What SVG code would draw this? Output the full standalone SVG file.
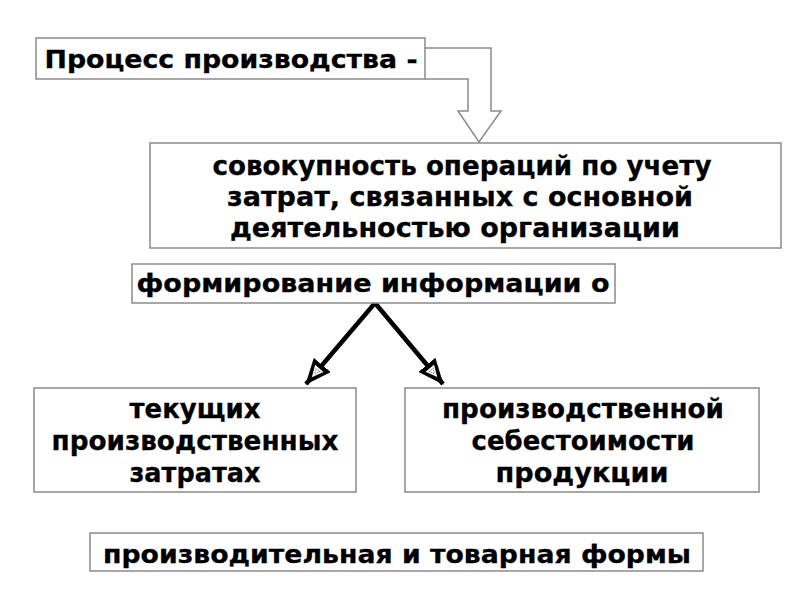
<svg xmlns="http://www.w3.org/2000/svg" width="800" height="600" viewBox="0 0 800 600">
<defs>
<style>
.box{fill:#fff;stroke:#8a8a8a;stroke-width:1.5}
.t{font-family:"DejaVu Sans","Liberation Sans",sans-serif;font-weight:bold;fill:#000;stroke:#000;stroke-width:0.3;text-anchor:middle}
.m{font-size:27px}
.conn{stroke:#000;stroke-width:4.5;fill:none}
</style>
<marker id="ah" viewBox="0 0 26 22" refX="25" refY="11" markerWidth="26" markerHeight="22" markerUnits="userSpaceOnUse" orient="auto">
<path d="M0,0 L26,11 L0,22 Z" fill="#000"/>
<path d="M4.5,5.5 L16,11 L4.5,16.5 Z" fill="#fff"/>
<path d="M6.5,8.5 L11.5,11 L6.5,13.5 Z" fill="none" stroke="#777" stroke-width="1" stroke-dasharray="1,1"/>
</marker>
</defs>
<rect width="800" height="600" fill="#fff"/>
<g id="connectors">
<path id="block-arrow" d="M425,48 H491 V111 H501 L479,142 L458,111 H468 V79 H425" fill="#fff" stroke="#8a8a8a" stroke-width="1.5"/>
<line class="conn" x1="375" y1="303" x2="306" y2="384" marker-end="url(#ah)"/>
<line class="conn" x1="375" y1="303" x2="443" y2="384" marker-end="url(#ah)"/>
</g>
<g id="n1">
<rect class="box" x="36" y="38" width="389" height="41"/>
<text class="t" x="231" y="68" font-size="24" textLength="373" lengthAdjust="spacingAndGlyphs">Процесс производства -</text>
</g>
<g id="n2">
<rect class="box" x="150" y="143" width="631" height="105"/>
<text class="t m" x="462" y="175" textLength="499" lengthAdjust="spacingAndGlyphs">совокупность операций по учету</text>
<text class="t m" x="460" y="206" textLength="466" lengthAdjust="spacingAndGlyphs">затрат, связанных с основной</text>
<text class="t m" x="455" y="237" textLength="450" lengthAdjust="spacingAndGlyphs">деятельностью организации</text>
</g>
<g id="n3">
<rect class="box" x="132" y="264" width="483" height="39"/>
<text class="t" x="373" y="292" font-size="25" textLength="473" lengthAdjust="spacingAndGlyphs">формирование информации о</text>
</g>
<g id="n4">
<rect class="box" x="34" y="388" width="322" height="104"/>
<text class="t m" x="195" y="418" textLength="131" lengthAdjust="spacingAndGlyphs">текущих</text>
<text class="t m" x="195" y="450" textLength="287" lengthAdjust="spacingAndGlyphs">производственных</text>
<text class="t m" x="195" y="482" textLength="131" lengthAdjust="spacingAndGlyphs">затратах</text>
</g>
<g id="n5">
<rect class="box" x="405" y="388" width="354" height="104"/>
<text class="t m" x="583" y="418" textLength="282" lengthAdjust="spacingAndGlyphs">производственной</text>
<text class="t m" x="583" y="450" textLength="223" lengthAdjust="spacingAndGlyphs">себестоимости</text>
<text class="t m" x="582" y="482" textLength="173" lengthAdjust="spacingAndGlyphs">продукции</text>
</g>
<g id="n6">
<rect class="box" x="90" y="533" width="613" height="38"/>
<text class="t" x="397" y="563" font-size="25" textLength="588" lengthAdjust="spacingAndGlyphs">производительная и товарная формы</text>
</g>
</svg>
